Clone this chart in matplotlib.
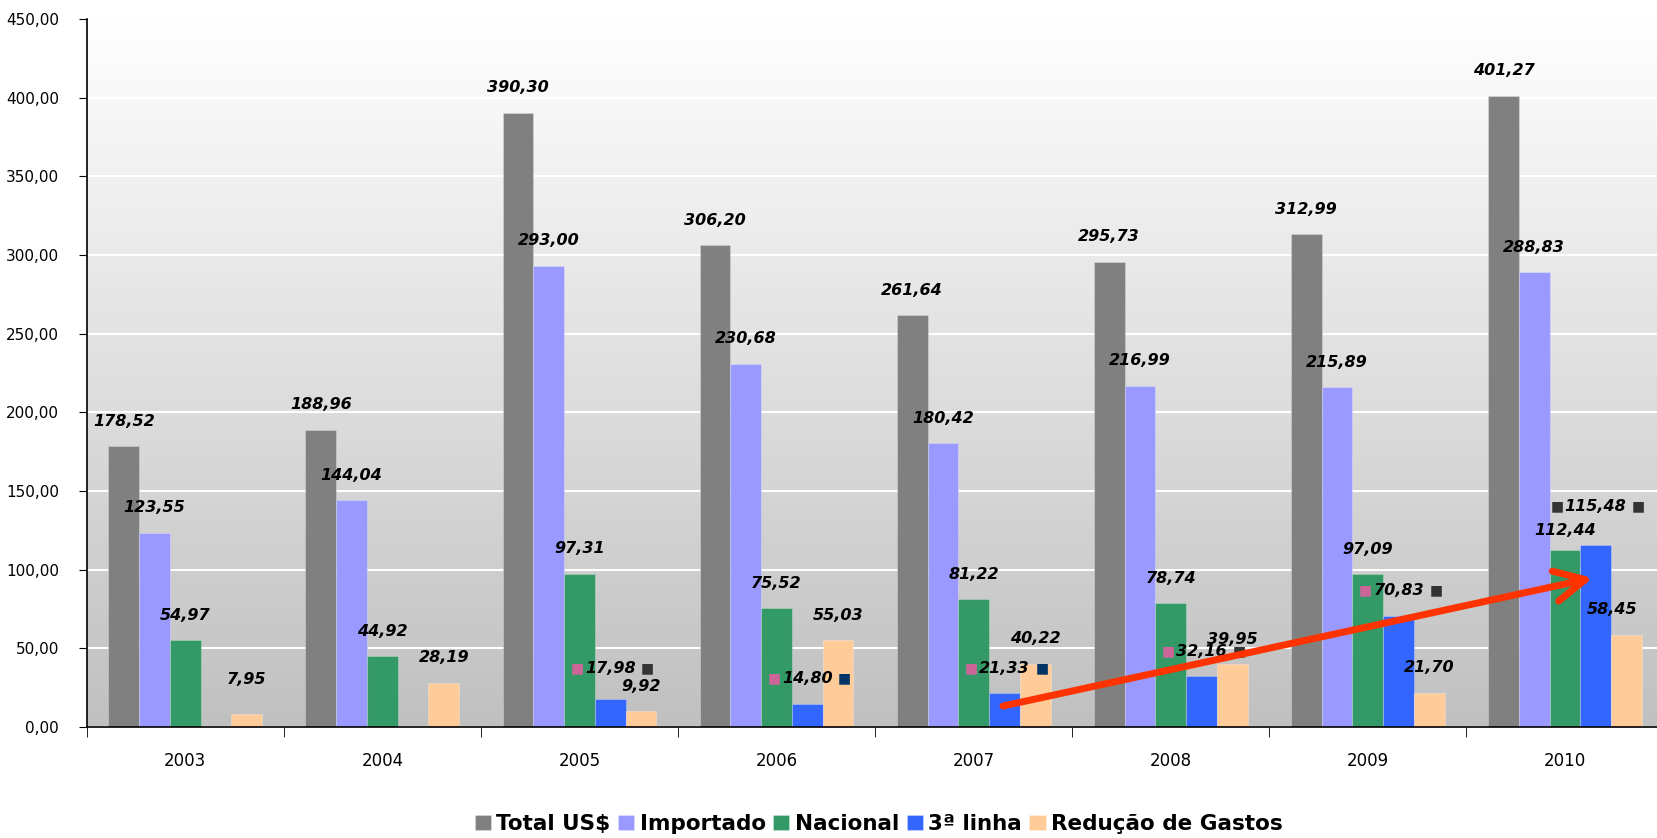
import matplotlib.pyplot as plt
import numpy as np
from matplotlib.colors import LinearSegmentedColormap

# dados (US$ milhões)
anos = ['2003', '2004', '2005', '2006', '2007', '2008', '2009', '2010']
total = [178.52, 188.96, 390.30, 306.20, 261.64, 295.73, 312.99, 401.27]
importado = [123.55, 144.04, 293.00, 230.68, 180.42, 216.99, 215.89, 288.83]
nacional = [54.97, 44.92, 97.31, 75.52, 81.22, 78.74, 97.09, 112.44]
terceira = [0, 0, 17.98, 14.80, 21.33, 32.16, 70.83, 115.48]
reducao = [7.95, 28.19, 9.92, 55.03, 40.22, 39.95, 21.70, 58.45]

nomes = ['Total US$', 'Importado', 'Nacional', '3ª linha', 'Redução de Gastos']
cores = ['#808080', '#9999ff', '#339966', '#3366ff', '#ffcc99']
series = [total, importado, nacional, terceira, reducao]

# quadradinhos ao lado dos rótulos da 3ª linha
cor_esq = ['#cc6699', '#cc6699', '#cc6699', '#cc6699', '#cc6699', '#cc6699', '#cc6699', '#333333']
cor_dir = ['#333333', '#333333', '#333333', '#003366', '#003366', '#333333', '#333333', '#333333']

# ajustes manuais de alguns rótulos (serie, ano): (dx, dy) em pontos
ajuste = {(4, 0): (0, 7), (3, 2): (0, 4), (3, 7): (0, 10), (2, 7): (0, -4), (4, 7): (-10, 0)}

fig = plt.figure(figsize=(16.58, 8.38), dpi=100)
ax = fig.add_axes([0.0523, 0.1325, 0.951, 0.845])

# fundo em degradê
cmap = LinearSegmentedColormap.from_list('fundo', ['#c0c0c0', '#ffffff'])
grad = np.linspace(0, 1, 256).reshape(-1, 1)
ax.imshow(grad, aspect='auto', cmap=cmap, origin='lower', extent=[0, 1, 0, 1],
          transform=ax.transAxes, zorder=0)

x = np.arange(len(anos))
w = 0.156
for i, (vals, cor, nome) in enumerate(zip(series, cores, nomes)):
    pos = x + (i - 2) * w
    ax.bar(pos, vals, width=w, color=cor, label=nome, edgecolor='#ffffff40', lw=0.8, zorder=3)
    for j, v in enumerate(vals):
        if v == 0:
            continue
        dx, dy = ajuste.get((i, j), (0, 0))
        txt = ax.annotate(f'{v:.2f}'.replace('.', ','), xy=(pos[j], v), xytext=(dx, 18 + dy),
                          textcoords='offset points', ha='center', va='center',
                          fontsize=11.5, fontweight='bold', fontstyle='italic', zorder=6)
        if i == 3:
            ax.annotate('■', xy=(0, 0.5), xycoords=txt, xytext=(-1, 0), textcoords='offset points',
                        ha='right', va='center', fontsize=10, color=cor_esq[j], zorder=6)
            ax.annotate('■', xy=(1, 0.5), xycoords=txt, xytext=(4, 0), textcoords='offset points',
                        ha='left', va='center', fontsize=10, color=cor_dir[j], zorder=6)

# seta vermelha
ax.annotate('', xy=(7.142, 94.7), xytext=(4.149, 13.3),
            arrowprops=dict(arrowstyle='->, head_length=1.1, head_width=0.55', lw=5,
                            color='#ff3300', mutation_scale=20, shrinkA=0, shrinkB=0),
            zorder=7)

ax.set_xlim(-0.5, 7.5)
ax.set_ylim(0, 450)
ax.set_yticks(np.arange(0, 451, 50))
ax.set_yticklabels([f'{t:.2f}'.replace('.', ',') for t in np.arange(0, 451, 50)], fontsize=11)
ax.yaxis.grid(True, color='white', lw=1.5, zorder=1)
ax.set_axisbelow(True)
ax.tick_params(axis='y', direction='out', length=6, pad=14, colors='black')
ax.set_xticks(x)
ax.set_xticklabels(anos, fontsize=12)
ax.set_xticks(np.arange(-0.5, 8, 1), minor=True)
ax.tick_params(axis='x', which='major', length=0, pad=18)
ax.tick_params(axis='x', which='minor', length=7, direction='out')
for s in ['top', 'right']:
    ax.spines[s].set_visible(False)
ax.spines['left'].set_linewidth(1.2)
ax.spines['bottom'].set_linewidth(1.2)
ax.spines['left'].set_zorder(8)
ax.spines['bottom'].set_zorder(8)

fig.legend(loc='center', bbox_to_anchor=(0.53, 0.0167), ncol=5, frameon=False,
           handlelength=0.75, handleheight=0.75, handletextpad=0.25, columnspacing=0.35,
           prop={'weight': 'bold', 'size': 15.5})

fig.savefig('out.png', dpi=100)
